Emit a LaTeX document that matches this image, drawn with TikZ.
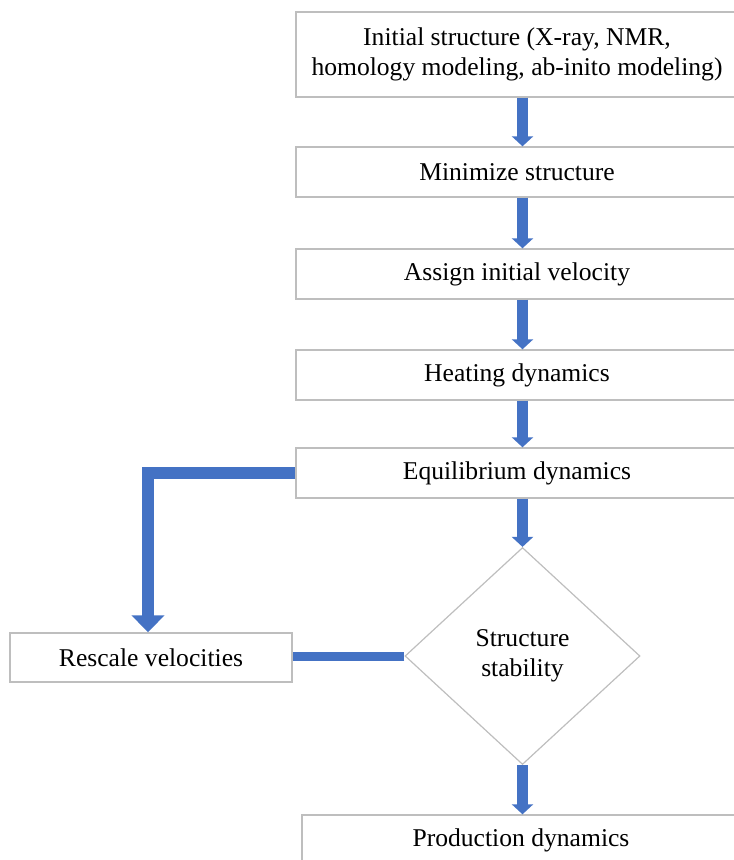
\documentclass[tikz,border=0pt]{standalone}
\usepackage{fontspec}
\setmainfont{Liberation Serif}
\usetikzlibrary{arrows.meta,shapes.geometric}
\definecolor{flowblue}{RGB}{68,114,196}
\definecolor{boxgray}{RGB}{190,190,190}
\begin{document}
\begin{tikzpicture}[x=1pt,y=-1pt,
  every node/.style={font=\fontsize{25.6}{30}\selectfont, text=black},
  stepbox/.style={draw=boxgray, line width=1.4pt, fill=white, rectangle, inner sep=0pt, align=center},
  decision/.style={draw=boxgray, line width=1.2pt, diamond, inner sep=0pt, align=center, shape aspect=1.083},
  flow/.style={draw=flowblue, line width=11pt, -{Triangle[width=21pt,length=10pt]}},
  loopflow/.style={draw=flowblue, line width=12pt, -{Triangle[width=32pt,length=17pt]}},
  plainflow/.style={draw=flowblue, line width=9pt}]
\useasboundingbox (0,0) rectangle (734,860);

\node[stepbox, minimum width=442pt, minimum height=85pt] (init) at (517,54.5)
  {Initial structure (X-ray, NMR,\\homology modeling, ab-inito modeling)};
\node[stepbox, minimum width=442pt, minimum height=50pt] (mini) at (517,172) {Minimize structure};
\node[stepbox, minimum width=442pt, minimum height=50pt] (assign) at (517,274) {Assign initial velocity};
\node[stepbox, minimum width=442pt, minimum height=50pt] (heat) at (517,375) {Heating dynamics};
\node[stepbox, minimum width=442pt, minimum height=50pt] (equil) at (517,473) {Equilibrium dynamics};
\node[decision, minimum width=235pt, minimum height=217pt] (dia) at (522.5,656) {Structure\\stability};
\node[stepbox, minimum width=282pt, minimum height=49pt] (resc) at (151,657.5) {Rescale velocities};
\node[stepbox, minimum width=438pt, minimum height=50pt] (prod) at (521,840) {Production dynamics};

\draw[flow] (init.south -| dia) -- (mini.north -| dia);
\draw[flow] (mini.south -| dia) -- (assign.north -| dia);
\draw[flow] (assign.south -| dia) -- (heat.north -| dia);
\draw[flow] (heat.south -| dia) -- (equil.north -| dia);
\draw[flow] (equil.south -| dia) -- (dia.north);
\draw[flow] (dia.south) -- (prod.north -| dia);
\draw[loopflow] (equil.west) -| ([xshift=-3pt]resc.north);
\draw[plainflow] (dia.west) -- (dia.west -| resc.east);
\end{tikzpicture}
\end{document}
